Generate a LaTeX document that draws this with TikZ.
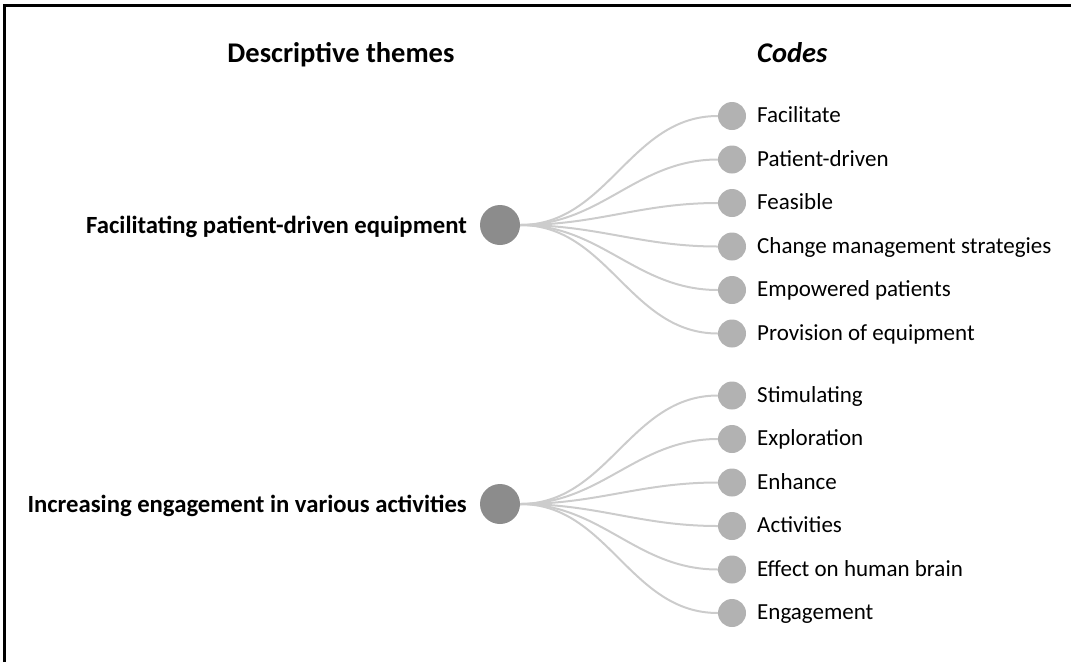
\documentclass[tikz,border=0pt]{standalone}
\usepackage{fontspec}
\setmainfont{Carlito}
\usepackage{tikz}

\tikzset{
  theme/.style={circle,fill=black!45,minimum size=40pt,inner sep=0pt},
  code/.style={circle,fill=black!30,minimum size=28pt,inner sep=0pt},
  link/.style={draw=black!20,line width=2pt},
  themelabel/.style={anchor=base east,inner sep=0pt,font=\fontsize{24.7}{29}\selectfont\bfseries},
  codelabel/.style={anchor=base west,inner sep=0pt,font=\fontsize{23}{27}\selectfont},
  header/.style={anchor=base,inner sep=0pt,font=\fontsize{28.5}{34}\selectfont\bfseries}
}

\begin{document}
\begin{tikzpicture}[x=1pt,y=-1pt]
    \useasboundingbox (0,0) rectangle (1071,662);
    \draw[line width=3pt] (4,662) -- (4,5.5) -- (1071,5.5);

%headers
    \node[header] (H1) at (341,62) {Descriptive themes};
    \node[header,anchor=base west] (H2) at (757,62) {\itshape Codes};

%first theme
    \node[theme] (T1) at (500,225) {};
    \node[code] (C1) at (732,116) {};
    \node[code] (C2) at (732,159.5) {};
    \node[code] (C3) at (732,203) {};
    \node[code] (C4) at (732,246.5) {};
    \node[code] (C5) at (732,290) {};
    \node[code] (C6) at (732,333.5) {};

%second theme
    \node[theme] (T2) at (500,504) {};
    \node[code] (C7) at (732,395.5) {};
    \node[code] (C8) at (732,439) {};
    \node[code] (C9) at (732,482.5) {};
    \node[code] (C10) at (732,526) {};
    \node[code] (C11) at (732,569.5) {};
    \node[code] (C12) at (732,613) {};

%links
    \foreach \c in {C1,C2,C3,C4,C5,C6}
        \draw[link] (T1.east) to[out=0,in=180] (\c.west);
    \foreach \c in {C7,C8,C9,C10,C11,C12}
        \draw[link] (T2.east) to[out=0,in=180] (\c.west);

%labels
    \node[themelabel] (L1) at (467,233) {Facilitating patient-driven equipment};
    \node[themelabel] (L2) at (467,512) {Increasing engagement in various activities};

    \node[codelabel] (D1) at ([xshift=25pt,yshift=-6.5pt]C1.center) {Facilitate};
    \node[codelabel] (D2) at ([xshift=25pt,yshift=-6.5pt]C2.center) {Patient-driven};
    \node[codelabel] (D3) at ([xshift=25pt,yshift=-6.5pt]C3.center) {Feasible};
    \node[codelabel] (D4) at ([xshift=25pt,yshift=-6.5pt]C4.center) {Change management strategies};
    \node[codelabel] (D5) at ([xshift=25pt,yshift=-6.5pt]C5.center) {Empowered patients};
    \node[codelabel] (D6) at ([xshift=25pt,yshift=-6.5pt]C6.center) {Provision of equipment};
    \node[codelabel] (D7) at ([xshift=25pt,yshift=-6.5pt]C7.center) {Stimulating};
    \node[codelabel] (D8) at ([xshift=25pt,yshift=-6.5pt]C8.center) {Exploration};
    \node[codelabel] (D9) at ([xshift=25pt,yshift=-6.5pt]C9.center) {Enhance};
    \node[codelabel] (D10) at ([xshift=25pt,yshift=-6.5pt]C10.center) {Activities};
    \node[codelabel] (D11) at ([xshift=25pt,yshift=-6.5pt]C11.center) {Effect on human brain};
    \node[codelabel] (D12) at ([xshift=25pt,yshift=-6.5pt]C12.center) {Engagement};
\end{tikzpicture}
\end{document}
